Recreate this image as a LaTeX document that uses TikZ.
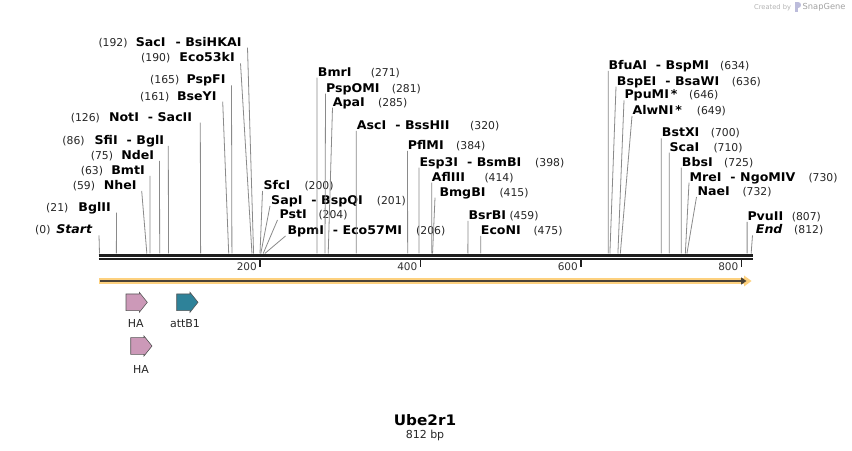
\documentclass[tikz,border=0pt]{standalone}
\usepackage{fontspec}
\setmainfont{DejaVu Sans}[BoldFeatures={FakeStretch=1.05},BoldItalicFeatures={FakeStretch=1.05}]
\usetikzlibrary{arrows.meta}
\definecolor{cutgray}{HTML}{8A8A8A}
\definecolor{bbone}{HTML}{1E1E1E}
\definecolor{featorange}{HTML}{FDD17F}
\definecolor{featdark}{HTML}{4A4236}
\definecolor{hapink}{HTML}{CC99B8}
\definecolor{attteal}{HTML}{2E8299}
\definecolor{featedge}{HTML}{555555}
\definecolor{sgray}{HTML}{B4B4B4}
\newcommand{\enzgap}{\hspace{9bp}-\hspace{4.5bp}}
% right-hand label: id, bp, x of text start, y centre, text, x of number, x of line top
\newcommand{\renz}[7]{%
  \node[enzname,anchor=base west] (#1) at (#3,#4+4.4) {#5};
  \node[enznum,anchor=base west] (#1-n) at (#6,#4+4.4) {(#2)};
  \coordinate (#1-t) at (#7,#4+6);
  \coordinate (#1-s) at ({99.5+#2*0.8025},253.5);
  \draw[cutline] (#1-t) -- (#1-s);
}
% left-hand label: id, bp, x of text end, y centre, text, x of number, x of line top
\newcommand{\lenz}[7]{%
  \node[enzname,anchor=base east] (#1) at (#3,#4+4.4) {#5};
  \node[enznum,anchor=base west] (#1-n) at (#6,#4+4.4) {(#2)};
  \coordinate (#1-t) at (#7,#4+6);
  \coordinate (#1-s) at ({99.5+#2*0.8025},253.5);
  \draw[cutline] (#1-t) -- (#1-s);
}
\newcommand{\featarrow}[3]{%
  \draw[featedge, line width=0.6bp, fill=#3, shift={(#1,#2)}]
    (0,1.7) -- (13.3,1.7) -- (13.3,0) -- (21.3,10) -- (13.3,20) -- (13.3,18.4) -- (0,18.4) -- cycle;
}
\begin{document}
\begin{tikzpicture}[x=1bp,y=-1bp,
  enzname/.style={inner sep=0pt, font=\fontsize{12bp}{14bp}\selectfont\bfseries, text=black},
  enznum/.style={inner sep=0pt, font=\fontsize{10.8bp}{13bp}\selectfont, text=black!85},
  cutline/.style={draw=cutgray, line width=0.8bp},
  ticklbl/.style={inner sep=0pt, font=\fontsize{10.5bp}{12bp}\selectfont, text=black!80, anchor=base east},
  featlbl/.style={inner sep=0pt, font=\fontsize{11bp}{13bp}\selectfont, text=black!85}]
\useasboundingbox (0,0) rectangle (852,451);
\fill[white] (0,0) rectangle (852,451);

% enzyme sites, left side
\lenz{SacI}{192}{241.7}{41.7}{SacI\hspace{10bp}-\hspace{4.5bp}BsiHKAI}{98.3}{247.5}
\lenz{Eco53kI}{190}{235}{57.3}{Eco53kI}{141}{240.5}
\lenz{PspFI}{165}{225.7}{79.3}{PspFI}{150}{231.5}
\lenz{BseYI}{161}{216.7}{95.7}{BseYI}{140}{222.7}
\lenz{NotI}{126}{192.3}{116.7}{NotI\enzgap SacII}{70.7}{200.3}
\lenz{SfiI}{86}{164.3}{140}{SfiI\enzgap BglI}{62.3}{168.3}
\lenz{NdeI}{75}{154.3}{155}{NdeI}{90.7}{159.5}
\lenz{BmtI}{63}{145}{170}{BmtI}{80.7}{150}
\lenz{NheI}{59}{136.7}{185}{NheI}{72.7}{141.7}
\lenz{BglII}{21}{111}{206.7}{BglII}{46}{116.5}
\lenz{Start}{0}{92.3}{229.3}{\itshape Start}{35}{99}

% enzyme sites, right side
\renz{SfcI}{200}{263.3}{185}{SfcI}{304.3}{262.5}
\renz{SapI}{201}{271}{200}{SapI\enzgap BspQI}{376.7}{270}
\renz{PstI}{204}{279.3}{214}{PstI}{318.3}{277.5}
\renz{BpmI}{206}{287.3}{230}{BpmI\enzgap Eco57MI}{416}{285.5}
\renz{BmrI}{271}{317.7}{71.7}{BmrI}{370.7}{317}
\renz{PspOMI}{281}{326}{87.7}{PspOMI}{391.7}{325.5}
\renz{ApaI}{285}{332.7}{101.7}{ApaI}{378}{332.5}
\renz{AscI}{320}{356.7}{125}{AscI\enzgap BssHII}{470}{356.3}
\renz{PflMI}{384}{407.7}{145}{PflMI}{456}{407.5}
\renz{Esp3I}{398}{419.3}{161.7}{Esp3I\enzgap BsmBI}{535}{419}
\renz{AflIII}{414}{431.7}{176.7}{AflIII}{484.3}{431.7}
\renz{BmgBI}{415}{439.3}{191.7}{BmgBI}{499.3}{435}
\renz{BsrBI}{459}{468.3}{215}{BsrBI}{509.3}{468}
\renz{EcoNI}{475}{480.7}{230}{EcoNI}{533.3}{480.7}
\renz{BfuAI}{634}{608.3}{65}{BfuAI\enzgap BspMI}{720}{608.3}
\renz{BspEI}{636}{616.7}{80.7}{BspEI\enzgap BsaWI}{731.7}{616}
\renz{PpuMI}{646}{624.3}{94.3}{PpuMI\,*}{689}{624}
\renz{AlwNI}{649}{632.3}{110}{AlwNI\,*}{696.7}{632}
\renz{BstXI}{700}{661.7}{132.3}{BstXI}{710.7}{661.3}
\renz{ScaI}{710}{669.3}{146.7}{ScaI}{713.3}{669.3}
\renz{BbsI}{725}{681.7}{161.7}{BbsI}{724}{681.3}
\renz{MreI}{730}{689.3}{176.7}{MreI\enzgap NgoMIV}{808.3}{689}
\renz{NaeI}{732}{697.3}{191}{NaeI}{742.3}{696.5}
\renz{PvuII}{807}{747.3}{216}{PvuII}{791.7}{747.1}
\renz{End}{812}{755.7}{229.3}{\itshape End}{794}{752.5}

% backbone
\draw[bbone, line width=2.6bp] (98.5,255.3) -- (752.7,255.3);
\draw[bbone, line width=2.3bp] (98.5,259.3) -- (752.7,259.3);
\foreach \p in {200,400,600,800}{
  \draw[bbone, line width=1.8bp] ({99.5+\p*0.8025},259) -- ({99.5+\p*0.8025},267);
  \node[ticklbl] (tick\p) at ({99.5+\p*0.8025-3},271) {\p};
}

% feature arrow along the sequence
\fill[featorange] (99,278.2) -- (744,278.2) -- (744,275.5) -- (751.5,281) -- (744,286.5) -- (744,283.8) -- (99,283.8) -- cycle;
\draw[featdark, line width=1.8bp, -{Triangle[length=5.5bp,width=7bp]}] (100,281) -- (746.5,281);

% features
\featarrow{126}{292.3}{hapink}
\featarrow{176.7}{292.3}{attteal}
\featarrow{130.7}{336}{hapink}
\node[featlbl] (ha1) at (135.7,323.3) {HA};
\node[featlbl] (att) at (185,323.3) {attB1};
\node[featlbl] (ha2) at (141,369.5) {HA};

% title
\node[inner sep=0pt, font=\fontsize{14.5bp}{16bp}\selectfont\bfseries] (title) at (425,420.5) {Ube2r1};
\node[inner sep=0pt, font=\fontsize{11bp}{13bp}\selectfont, text=black!85] (len) at (425,435.5) {812 bp};

% credit
\node[inner sep=0pt, font=\fontsize{6.7bp}{8bp}\selectfont, text=sgray, anchor=west] (cr) at (754,7.5) {Created by};
\fill[sgray!80!blue!60!white] (795,2.5) rectangle (797.5,12.5);
\fill[sgray!80!blue!60!white] (797.5,2.5) .. controls (802,2.5) and (802,8) .. (797.5,8) -- cycle;
\node[inner sep=0pt, font=\fontsize{8.3bp}{10bp}\selectfont, text=sgray!90!black, anchor=west] (sg) at (802.5,7.2) {SnapGene};
\end{tikzpicture}
\end{document}
